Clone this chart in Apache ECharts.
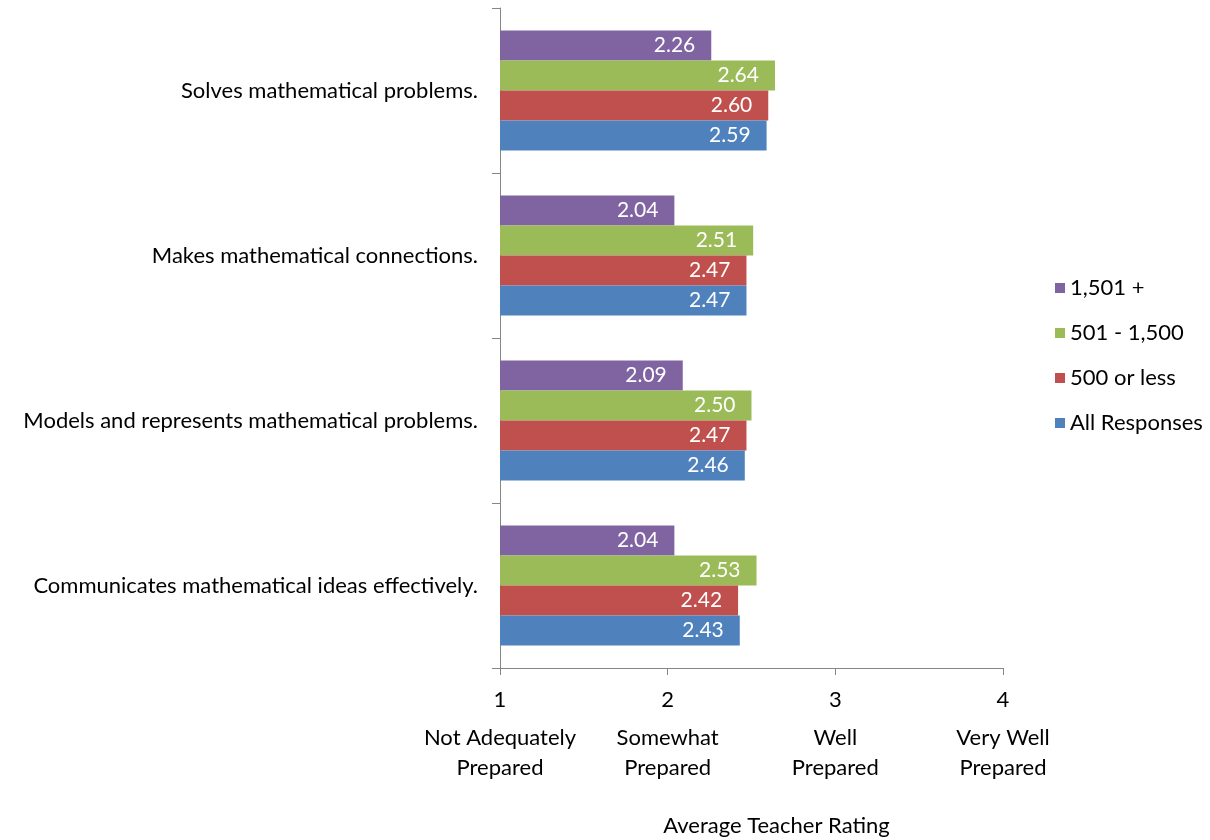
<!DOCTYPE html>
<html>
<head>
<meta charset="utf-8">
<script src="https://cdn.jsdelivr.net/npm/echarts@6/dist/echarts.min.js"></script>
<style>
  html, body { margin: 0; padding: 0; background: #fff; }
  #main { width: 1210px; height: 840px; }
</style>
</head>
<body>
<div id="main"></div>
<script>
// categories, top to bottom
const skills = [
  'Solves mathematical problems.',
  'Makes mathematical connections.',
  'Models and represents mathematical problems.',
  'Communicates mathematical ideas effectively.'
]
const ratingTicks = [1, 2, 3, 4]
const ratingNames = [
  'Not Adequately\nPrepared',
  'Somewhat\nPrepared',
  'Well\nPrepared',
  'Very Well\nPrepared'
]
const seriesNames = ['1,501 +', '501 - 1,500', '500 or less', 'All Responses']
const large = [2.26, 2.04, 2.09, 2.04]
const medium = [2.64, 2.51, 2.50, 2.53]
const small = [2.60, 2.47, 2.47, 2.42]
const allResponses = [2.59, 2.47, 2.46, 2.43]
const colors = ['#8064A2', '#9BBB59', '#C0504D', '#4F81BD']

const font = 'Lato'
const fs = 22
const chart = echarts.init(document.getElementById('main'))

const barSeries = [large, medium, small, allResponses].map((data, i) => ({
  name: seriesNames[i],
  type: 'bar',
  data: data,
  barWidth: 30,
  barGap: '0%',
  itemStyle: {color: colors[i]},
  label: {
    show: true,
    position: 'insideRight',
    distance: 16,
    color: '#fff',
    fontFamily: font,
    fontSize: 21,
    formatter: p => p.value.toFixed(2)
  }
}))

const option = {
  animation: false,
  grid: {left: 500, right: 207, top: 8, bottom: 172, outerBoundsMode: 'none'},
  legend: {
    orient: 'vertical',
    left: 1050,
    top: 272,
    itemWidth: 10,
    itemHeight: 10,
    itemGap: 23,
    icon: 'rect',
    data: seriesNames,
    textStyle: {fontFamily: font, fontSize: fs, color: '#000'}
  },
  xAxis: {
    type: 'value',
    min: 1,
    max: 4,
    interval: 1,
    splitLine: {show: false},
    axisLine: {show: true, lineStyle: {color: '#868686'}},
    axisTick: {show: true, length: 7, lineStyle: {color: '#868686'}},
    axisLabel: {
      margin: 9,
      formatter: v => {
        const lines = ratingNames[ratingTicks.indexOf(v)].split('\n')
        return '{n|' + v + '}\n{t|' + lines[0] + '}\n{t|' + lines[1] + '}'
      },
      rich: {
        n: {fontFamily: font, fontSize: fs, color: '#000', lineHeight: 46},
        t: {fontFamily: font, fontSize: fs, color: '#000', lineHeight: 30}
      }
    },
    name: 'Average Teacher Rating',
    nameLocation: 'middle',
    nameGap: 147,
    nameTextStyle: {fontFamily: font, fontSize: fs, color: '#000', padding: [0, 0, 0, 50]}
  },
  yAxis: {
    type: 'category',
    inverse: true,
    data: skills,
    axisLine: {show: true, lineStyle: {color: '#868686'}},
    axisTick: {show: true, length: 8, lineStyle: {color: '#868686'}},
    axisLabel: {margin: 22, fontFamily: font, fontSize: fs, color: '#000'}
  },
  series: barSeries
}

chart.setOption(option)
</script>
</body>
</html>
